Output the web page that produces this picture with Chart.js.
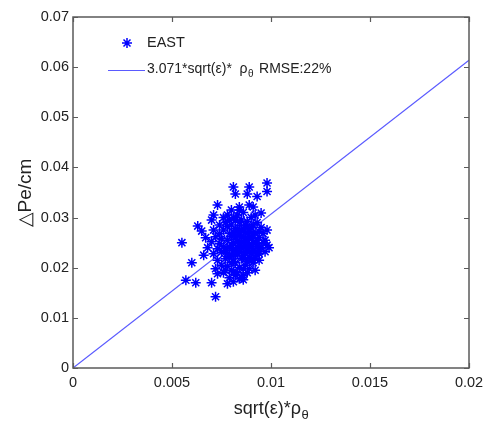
<!DOCTYPE html>
<html>
<head>
<meta charset="utf-8">
<script src="https://cdn.jsdelivr.net/npm/chart.js@4/dist/chart.umd.min.js"></script>
<style>
html,body{margin:0;padding:0;background:#fff;}
#c{display:block;}
</style>
</head>
<body>
<canvas id="c" width="492" height="426"></canvas>
<script>
// ---- data ----
const eastX = [
0.0055,0.0057,0.0062,0.0060,0.0063,0.0065,0.0070,0.0072,0.0070,0.0078,0.0086,0.0081,0.0089,0.0098,0.0098,0.0082,0.0088,0.0093,0.0084,0.0089,0.0091,0.0095,0.0073,0.0071,0.0098,0.0094,0.0092,0.0068,0.0067,0.0066,
0.0072,0.0074,0.0075,0.0076,0.0077,0.0077,0.0078,0.0078,0.0079,0.0079,0.0080,0.0080,0.0080,0.0081,0.0081,0.0081,0.0082,0.0082,0.0082,0.0083,
0.0083,0.0083,0.0084,0.0084,0.0084,0.0085,0.0085,0.0085,0.0086,0.0086,0.0086,0.0087,0.0087,0.0087,0.0088,0.0088,0.0088,0.0089,0.0089,0.0090,
0.0090,0.0090,0.0091,0.0091,0.0092,0.0092,0.0093,0.0093,0.0094,0.0095,0.0095,0.0096,0.0097,0.0074,0.0075,0.0076,0.0073,0.0073,0.0079,0.0081,
0.0083,0.0084,0.0080,0.0078,0.0076,0.0079,0.0080,0.0081,0.0082,0.0082,0.0083,0.0084,0.0085,0.0085,0.0086,0.0086,0.0087,0.0087,0.0088,0.0088,
0.0089,0.0089,0.0090,0.0091,0.0091,0.0092,0.0092,0.0093,0.0094,0.0094,0.0096,0.0097,0.0098,0.0099,0.0070,0.0071,0.0071,0.0072,0.0073,0.0074,
0.0075,0.0076,0.0077,0.0077,0.0078,0.0078,0.0079,0.0080,0.0080,0.0081,0.0081,0.0082,0.0082,0.0083,0.0083,0.0084,0.0084,0.0085,0.0085,0.0086,
0.0086,0.0087,0.0087,0.0088,0.0088,0.0089,0.0089,0.0090,0.0090,0.0091,0.0092,0.0093,0.0094
];
const eastY = [
0.0250,0.0175,0.0170,0.0210,0.0283,0.0273,0.0295,0.0142,0.0170,0.0168,0.0176,0.0361,0.0361,0.0369,0.0352,0.0347,0.0347,0.0342,0.0321,0.0325,0.0321,0.0309,0.0325,0.0305,0.0275,0.0215,0.0195,0.0240,0.0260,0.0225,
0.0262,0.0248,0.0231,0.0275,0.0218,0.0290,0.0255,0.0203,0.0240,0.0268,0.0225,0.0285,0.0195,0.0250,0.0300,0.0212,0.0262,0.0238,0.0185,0.0275,
0.0228,0.0305,0.0248,0.0200,0.0290,0.0262,0.0218,0.0180,0.0240,0.0278,0.0310,0.0255,0.0205,0.0230,0.0268,0.0292,0.0190,0.0245,0.0220,0.0280,
0.0258,0.0300,0.0235,0.0210,0.0270,0.0248,0.0290,0.0225,0.0260,0.0240,0.0280,0.0250,0.0232,0.0285,0.0205,0.0190,0.0215,0.0238,0.0180,0.0172,
0.0190,0.0315,0.0315,0.0305,0.0300,0.0222,0.0262,0.0235,0.0278,0.0210,0.0252,0.0265,0.0240,0.0295,0.0225,0.0198,0.0270,0.0285,0.0238,0.0212,
0.0262,0.0198,0.0228,0.0250,0.0285,0.0232,0.0305,0.0255,0.0272,0.0238,0.0268,0.0255,0.0245,0.0240,0.0252,0.0228,0.0275,0.0198,0.0188,0.0268,
0.0258,0.0242,0.0235,0.0195,0.0282,0.0228,0.0295,0.0245,0.0210,0.0270,0.0192,0.0225,0.0295,0.0240,0.0265,0.0232,0.0178,0.0250,0.0275,0.0260,
0.0185,0.0245,0.0218,0.0255,0.0280,0.0232,0.0272,0.0242,0.0215,0.0265,0.0218,0.0242,0.0228
];
const fitX = [0, 0.02];
const fitY = [0, 0.0614];
const xTicks = [0, 0.005, 0.01, 0.015, 0.02];
const yTicks = [0, 0.01, 0.02, 0.03, 0.04, 0.05, 0.06, 0.07];
const eastLabel = 'EAST';
const fitLabelMain = '3.071*sqrt(ε)*  ρ';
const fitLabelSub = 'θ';
const fitLabelTail = ' RMSE:22%';
const xTitleMain = 'sqrt(ε)*ρ';
const xTitleSub = 'θ';
const yTitle = '△Pe/cm';

const FONT = '"Liberation Sans", Arial, sans-serif';
const BLUE = '#0000ff';
const LINEBLUE = 'rgb(90,90,255)';
const FRAME = '#5a5a5a';

const scatterData = eastX.map((x, i) => ({x: x, y: eastY[i]}));
const fitData = fitX.map((x, i) => ({x: x, y: fitY[i]}));

function drawSubText(ctx, x, y, main, sub, tail, size, align) {
  ctx.font = size + 'px ' + FONT;
  const wMain = ctx.measureText(main).width;
  ctx.font = Math.round(size * 0.72) + 'px ' + FONT;
  const wSub = ctx.measureText(sub).width;
  ctx.font = size + 'px ' + FONT;
  const wTail = tail ? ctx.measureText(tail).width : 0;
  const total = wMain + wSub + wTail;
  let sx = align === 'center' ? x - total / 2 : x;
  ctx.textAlign = 'left';
  ctx.textBaseline = 'middle';
  ctx.fillText(main, sx, y);
  ctx.font = Math.round(size * 0.72) + 'px ' + FONT;
  ctx.fillText(sub, sx + wMain + 0.5, y + size * 0.38);
  if (tail) {
    ctx.font = size + 'px ' + FONT;
    ctx.fillText(tail, sx + wMain + wSub + 2, y);
  }
}

const decor = {
  id: 'decor',
  afterDraw(chart) {
    const ctx = chart.ctx;
    const a = chart.chartArea;
    const xs = chart.scales.x, ys = chart.scales.y;
    ctx.save();
    // frame
    ctx.strokeStyle = FRAME;
    ctx.lineWidth = 1.5;
    ctx.strokeRect(a.left, a.top, a.right - a.left, a.bottom - a.top);
    // inward ticks
    ctx.lineWidth = 1.2;
    ctx.beginPath();
    xTicks.forEach(v => {
      const px = Math.round(xs.getPixelForValue(v)) + 0.5;
      ctx.moveTo(px, a.bottom); ctx.lineTo(px, a.bottom - 5);
      ctx.moveTo(px, a.top); ctx.lineTo(px, a.top + 5);
    });
    yTicks.forEach(v => {
      const py = Math.round(ys.getPixelForValue(v)) + 0.5;
      ctx.moveTo(a.left, py); ctx.lineTo(a.left + 5, py);
      ctx.moveTo(a.right, py); ctx.lineTo(a.right - 5, py);
    });
    ctx.stroke();
    // axis titles
    ctx.fillStyle = '#222';
    drawSubText(ctx, (a.left + a.right) / 2, 409, xTitleMain, xTitleSub, '', 18, 'center');
    ctx.save();
    ctx.translate(26, 193);
    ctx.rotate(-Math.PI / 2);
    ctx.font = '19px ' + FONT;
    ctx.textAlign = 'center';
    ctx.textBaseline = 'middle';
    ctx.fillText(yTitle, 0, 0);
    ctx.restore();
    // legend
    ctx.strokeStyle = BLUE;
    ctx.lineWidth = 1.5;
    const cx = 127, cy = 43, r = 5;
    ctx.beginPath();
    ctx.moveTo(cx - r, cy); ctx.lineTo(cx + r, cy);
    ctx.moveTo(cx, cy - r); ctx.lineTo(cx, cy + r);
    const d = r * 0.7;
    ctx.moveTo(cx - d, cy - d); ctx.lineTo(cx + d, cy + d);
    ctx.moveTo(cx - d, cy + d); ctx.lineTo(cx + d, cy - d);
    ctx.stroke();
    ctx.fillStyle = '#222';
    ctx.font = '14.5px ' + FONT;
    ctx.textAlign = 'left';
    ctx.textBaseline = 'middle';
    ctx.fillText(chart.data.datasets[0].label, 147, 43);
    ctx.strokeStyle = LINEBLUE;
    ctx.lineWidth = 1.2;
    ctx.beginPath();
    ctx.moveTo(108, 70.5); ctx.lineTo(145, 70.5);
    ctx.stroke();
    drawSubText(ctx, 147, 69, fitLabelMain, fitLabelSub, fitLabelTail, 14, 'left');
    ctx.restore();
  }
};

new Chart(document.getElementById('c'), {
  type: 'scatter',
  data: {
    datasets: [
      {
        label: eastLabel,
        data: scatterData,
        pointStyle: 'star',
        pointRadius: 5,
        pointBorderColor: BLUE,
        pointBackgroundColor: BLUE,
        pointBorderWidth: 1.5,
        showLine: false
      },
      {
        type: 'line',
        label: fitLabelMain + fitLabelSub + fitLabelTail,
        data: fitData,
        borderColor: LINEBLUE,
        borderWidth: 1.2,
        pointRadius: 0,
        fill: false,
        tension: 0
      }
    ]
  },
  options: {
    responsive: false,
    animation: false,
    layout: { padding: { left: 0, right: 23, top: 17, bottom: 0 } },
    plugins: { legend: { display: false }, tooltip: { enabled: false } },
    scales: {
      x: {
        type: 'linear', min: 0, max: 0.02,
        afterBuildTicks: s => { s.ticks = xTicks.map(v => ({value: v})); },
        afterFit: s => { s.height = 58; },
        grid: { display: false, drawTicks: false },
        border: { display: false },
        ticks: {
          padding: 6, color: '#222', font: { family: FONT, size: 14.5 },
          callback: v => String(parseFloat(v.toFixed(4)))
        }
      },
      y: {
        type: 'linear', min: 0, max: 0.07,
        afterBuildTicks: s => { s.ticks = yTicks.map(v => ({value: v})); },
        afterFit: s => { s.width = 73; },
        grid: { display: false, drawTicks: false },
        border: { display: false },
        ticks: {
          padding: 4, color: '#222', font: { family: FONT, size: 14.5 },
          callback: v => String(parseFloat(v.toFixed(4)))
        }
      }
    }
  },
  plugins: [decor]
});
</script>
</body>
</html>
